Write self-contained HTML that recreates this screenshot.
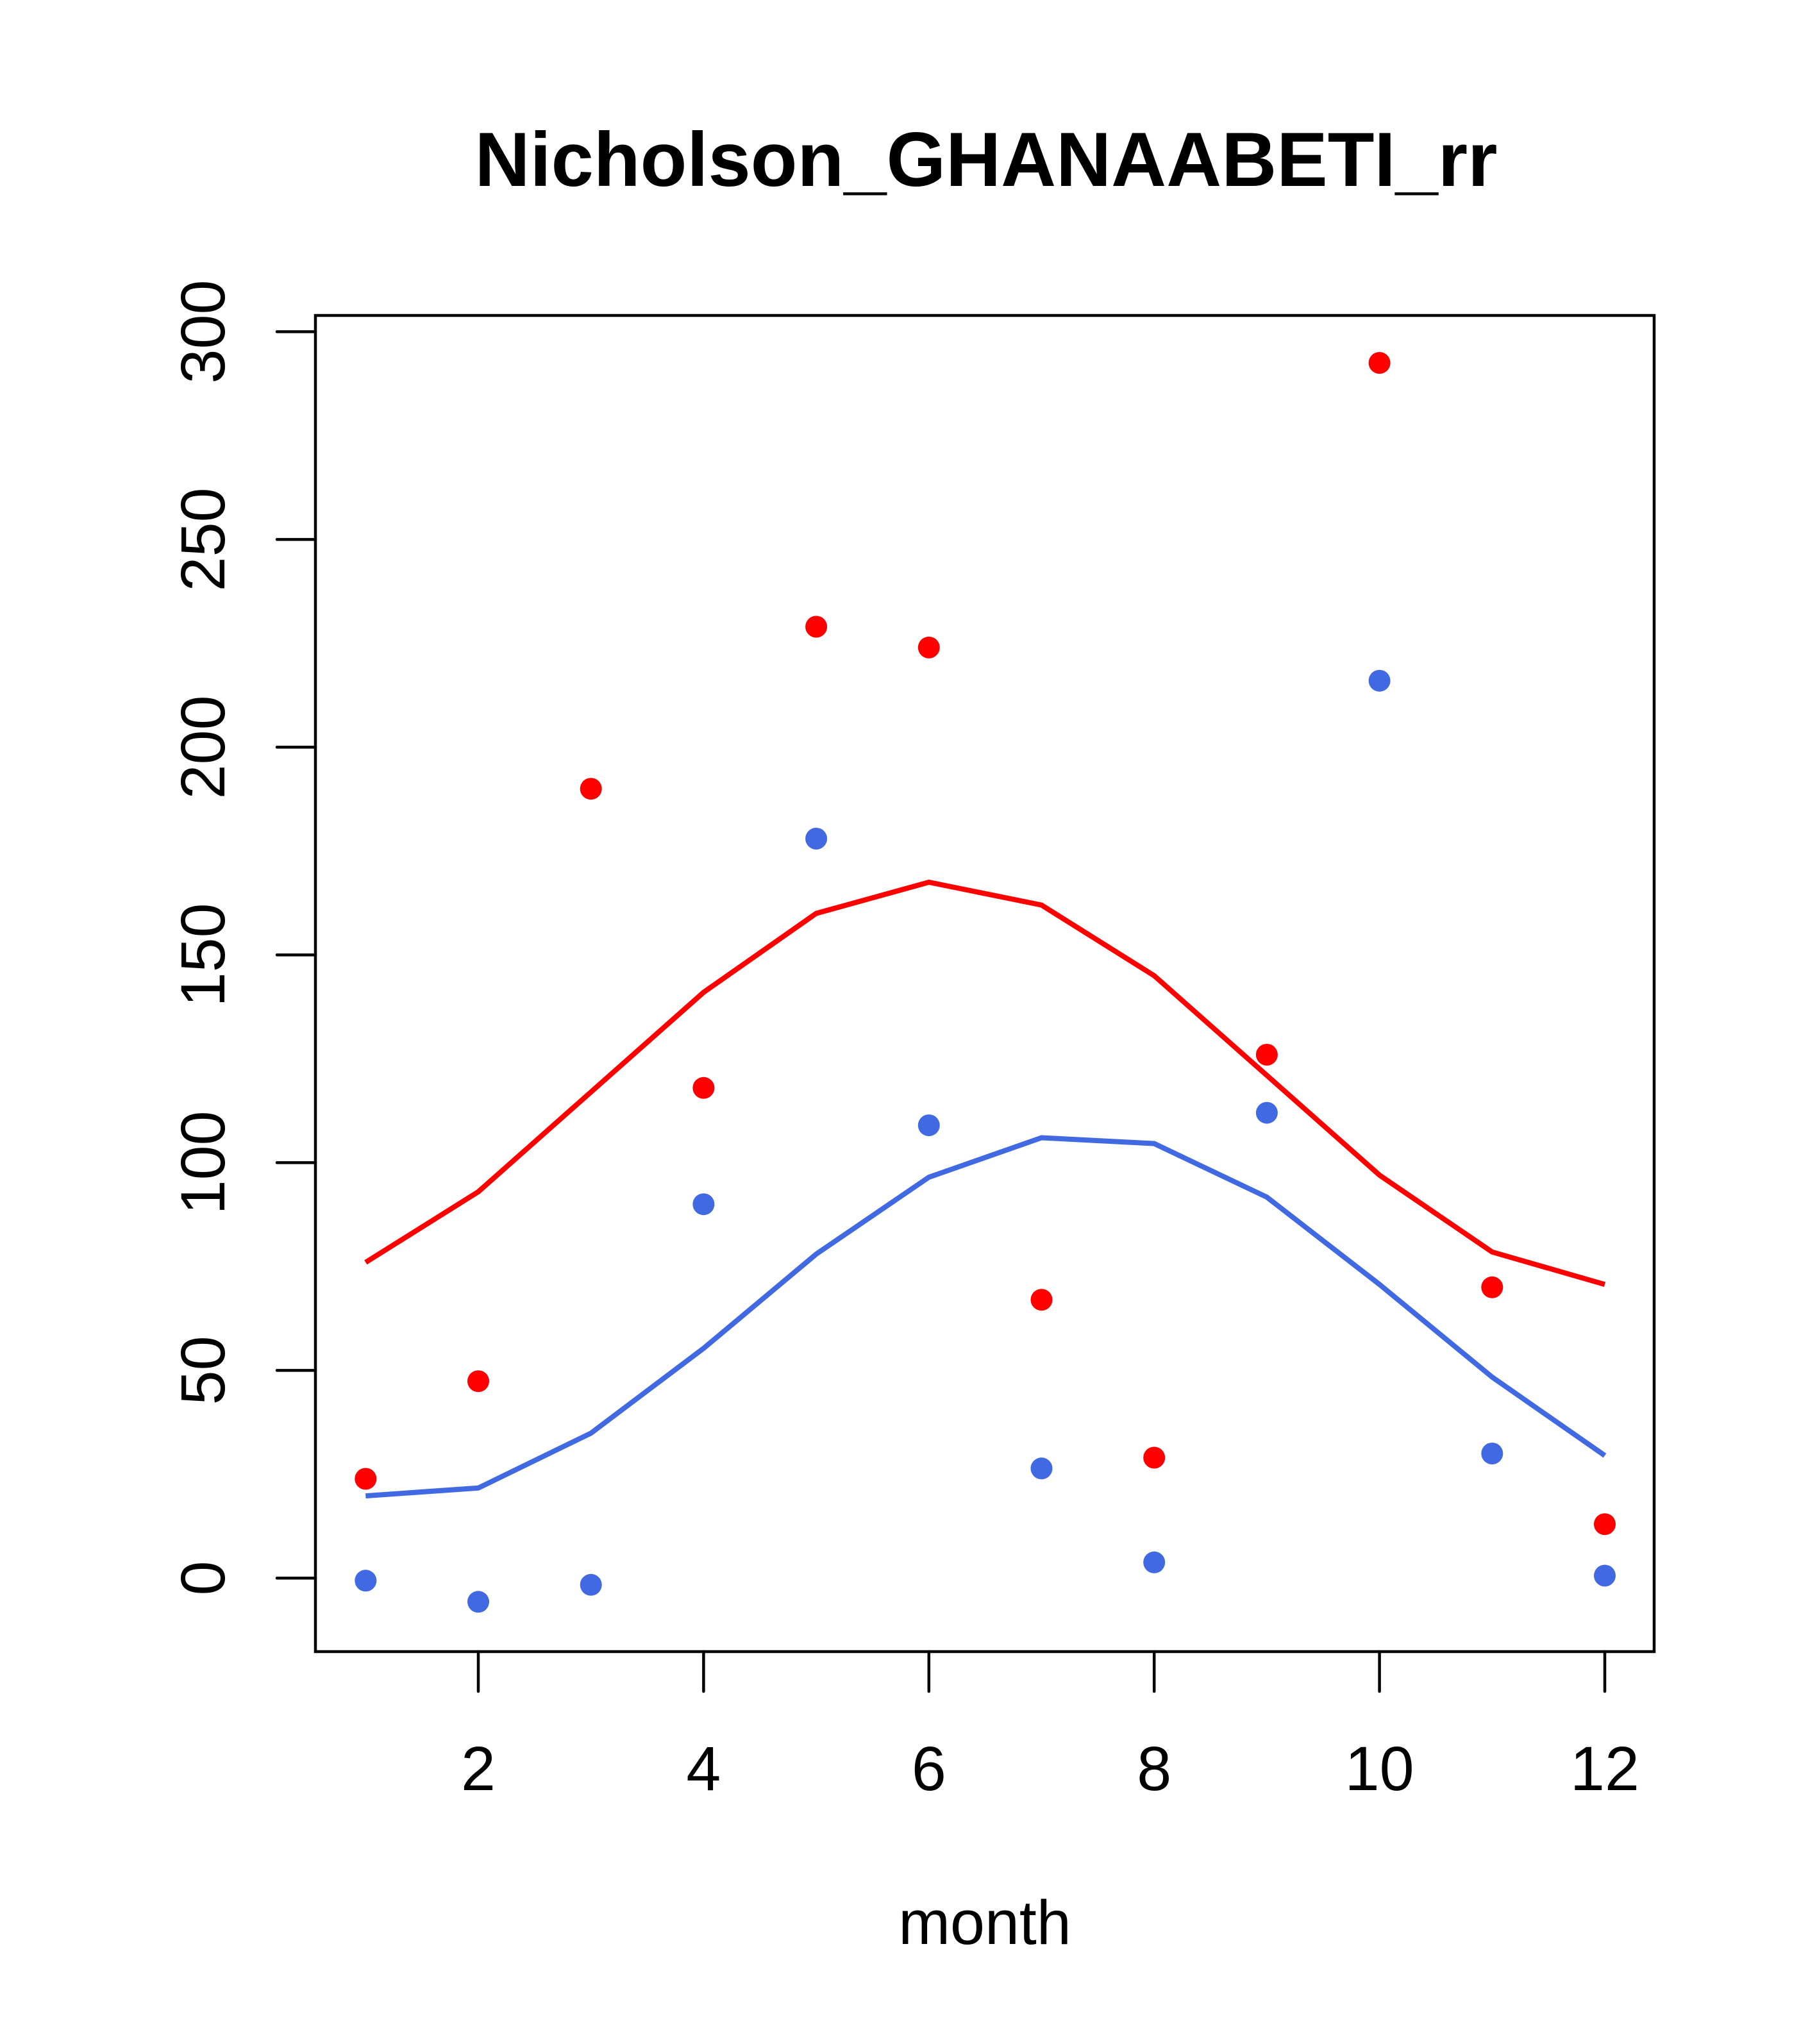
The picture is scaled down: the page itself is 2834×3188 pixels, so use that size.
<!DOCTYPE html>
<html><head><meta charset="utf-8"><style>html,body{margin:0;padding:0;background:#fff}svg{display:block}</style></head>
<body>
<svg width="2834" height="3188" viewBox="0 0 2834 3188" xmlns="http://www.w3.org/2000/svg" font-family="Liberation Sans, Arial, sans-serif">
<rect width="2834" height="3188" fill="#fff"/>
<text x="1538" y="290" font-size="120" font-weight="bold" text-anchor="middle" textLength="1595" lengthAdjust="spacingAndGlyphs">Nicholson_GHANAABETI_rr</text>
<rect x="492" y="492" width="2088" height="2084" fill="none" stroke="#000" stroke-width="4.5"/>
<g stroke="#000" stroke-width="4.5" stroke-linecap="round">
<line x1="432" y1="517.4" x2="492" y2="517.4"/>
<line x1="432" y1="841.4" x2="492" y2="841.4"/>
<line x1="432" y1="1165.4" x2="492" y2="1165.4"/>
<line x1="432" y1="1489.4" x2="492" y2="1489.4"/>
<line x1="432" y1="1813.4" x2="492" y2="1813.4"/>
<line x1="432" y1="2137.4" x2="492" y2="2137.4"/>
<line x1="432" y1="2461.4" x2="492" y2="2461.4"/>
<line x1="746" y1="2576" x2="746" y2="2638"/>
<line x1="1097.4" y1="2576" x2="1097.4" y2="2638"/>
<line x1="1448.8" y1="2576" x2="1448.8" y2="2638"/>
<line x1="1800.2" y1="2576" x2="1800.2" y2="2638"/>
<line x1="2151.6" y1="2576" x2="2151.6" y2="2638"/>
<line x1="2503" y1="2576" x2="2503" y2="2638"/>
</g>
<g font-size="97" text-anchor="middle">
<text x="350" y="517.4" transform="rotate(-90 350 517.4)">300</text>
<text x="350" y="841.4" transform="rotate(-90 350 841.4)">250</text>
<text x="350" y="1165.4" transform="rotate(-90 350 1165.4)">200</text>
<text x="350" y="1489.4" transform="rotate(-90 350 1489.4)">150</text>
<text x="350" y="1813.4" transform="rotate(-90 350 1813.4)">100</text>
<text x="350" y="2137.4" transform="rotate(-90 350 2137.4)">50</text>
<text x="350" y="2461.4" transform="rotate(-90 350 2461.4)">0</text>
<text x="746" y="2792">2</text>
<text x="1097.4" y="2792">4</text>
<text x="1448.8" y="2792">6</text>
<text x="1800.2" y="2792">8</text>
<text x="2151.6" y="2792">10</text>
<text x="2503" y="2792">12</text>
<text x="1536" y="3032">month</text>
</g>
<polyline fill="none" stroke="#FF0000" stroke-width="8" points="570.3,1968.9 746,1858.8 921.7,1703.2 1097.4,1547.7 1273.1,1424.6 1448.8,1376 1624.5,1411.6 1800.2,1521.8 1975.9,1677.3 2151.6,1832.8 2327.3,1952.7 2503,2003.3"/>
<polyline fill="none" stroke="#4169E1" stroke-width="8" points="570.3,2333.1 746,2320.8 921.7,2235.3 1097.4,2103 1273.1,1956 1448.8,1836.1 1624.5,1774.5 1800.2,1783.6 1975.9,1867.2 2151.6,2003.3 2327.3,2147.8 2503,2270.2"/>
<g fill="#FF0000">
<circle cx="570.3" cy="2306.5" r="17"/><circle cx="746" cy="2154.2" r="17"/><circle cx="921.7" cy="1230.2" r="17"/><circle cx="1097.4" cy="1696.8" r="17"/><circle cx="1273.1" cy="977.5" r="17"/><circle cx="1448.8" cy="1009.9" r="17"/><circle cx="1624.5" cy="2027.2" r="17"/><circle cx="1800.2" cy="2273.5" r="17"/><circle cx="1975.9" cy="1645" r="17"/><circle cx="2151.6" cy="566" r="17"/><circle cx="2327.3" cy="2007.8" r="17"/><circle cx="2503" cy="2377.2" r="17"/>
</g>
<g fill="#4169E1">
<circle cx="570.3" cy="2465.3" r="17"/><circle cx="746" cy="2498.3" r="17"/><circle cx="921.7" cy="2471.8" r="17"/><circle cx="1097.4" cy="1878.2" r="17"/><circle cx="1273.1" cy="1308" r="17"/><circle cx="1448.8" cy="1755.1" r="17"/><circle cx="1624.5" cy="2290.3" r="17"/><circle cx="1800.2" cy="2436.8" r="17"/><circle cx="1975.9" cy="1735.6" r="17"/><circle cx="2151.6" cy="1061.7" r="17"/><circle cx="2327.3" cy="2267" r="17"/><circle cx="2503" cy="2457.5" r="17"/>
</g>
</svg>
</body></html>
